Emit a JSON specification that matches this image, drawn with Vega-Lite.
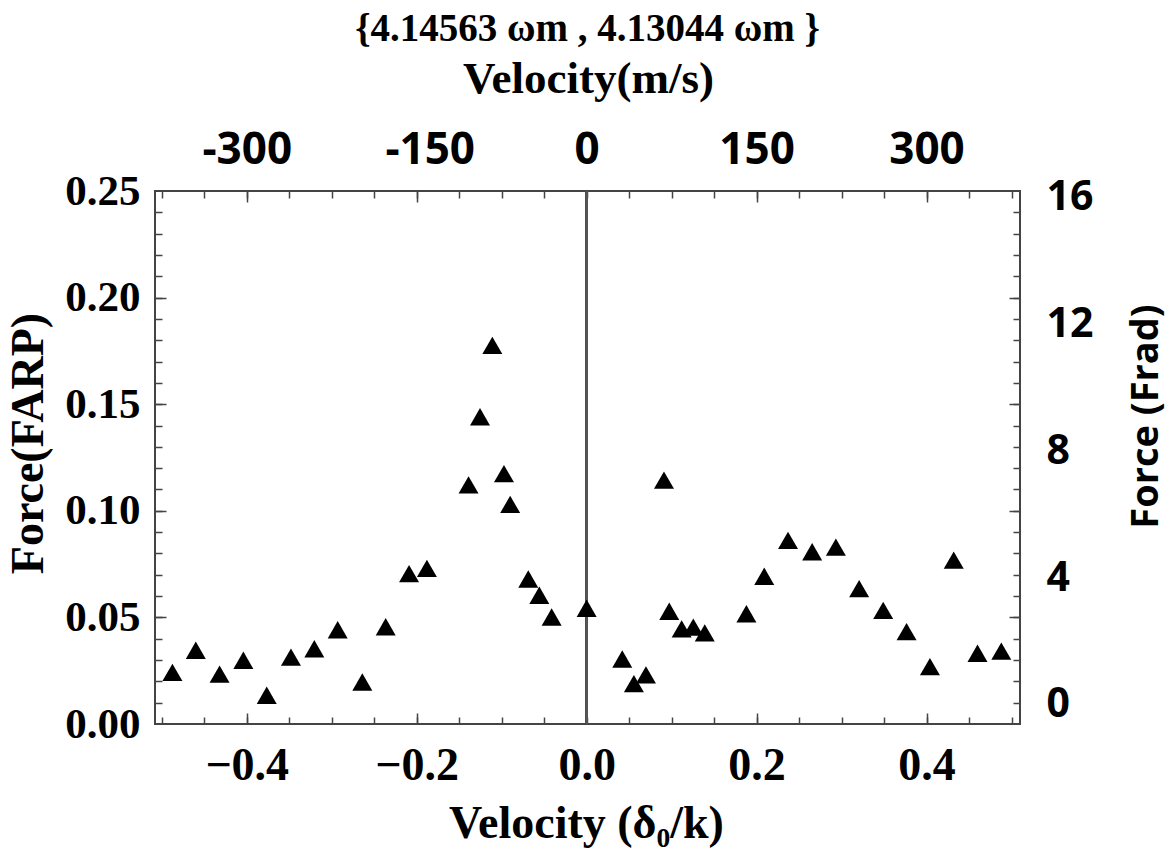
{
  "$schema": "https://vega.github.io/schema/vega-lite/v6.json",
  "width": 865,
  "height": 533,
  "autosize": {"type": "none"},
  "padding": {"left": 155, "top": 191, "right": 152, "bottom": 133},
  "background": "white",
  "config": {
    "view": {"stroke": "#444444", "strokeWidth": 2},
    "axis": {"domain": false, "grid": false, "tickColor": "#444444", "tickWidth": 1.5, "labelColor": "black", "titleColor": "black"}
  },
  "data": {
    "values": [
      {"d": -0.4875, "f": 0.0242},
      {"d": -0.46, "f": 0.0346},
      {"d": -0.432, "f": 0.0234},
      {"d": -0.404, "f": 0.0299},
      {"d": -0.3765, "f": 0.0135},
      {"d": -0.348, "f": 0.0314},
      {"d": -0.3205, "f": 0.0353},
      {"d": -0.293, "f": 0.0442},
      {"d": -0.264, "f": 0.0197},
      {"d": -0.2365, "f": 0.0456},
      {"d": -0.209, "f": 0.0705},
      {"d": -0.188, "f": 0.073},
      {"d": -0.139, "f": 0.1122},
      {"d": -0.1255, "f": 0.1441},
      {"d": -0.111, "f": 0.1776},
      {"d": -0.0973, "f": 0.1174},
      {"d": -0.09, "f": 0.103},
      {"d": -0.0687, "f": 0.068},
      {"d": -0.0557, "f": 0.0604},
      {"d": -0.0412, "f": 0.0502},
      {"d": 0.0, "f": 0.0543},
      {"d": 0.0419, "f": 0.0305},
      {"d": 0.0556, "f": 0.0189},
      {"d": 0.0698, "f": 0.023},
      {"d": 0.091, "f": 0.1144},
      {"d": 0.0972, "f": 0.0529},
      {"d": 0.1118, "f": 0.0446},
      {"d": 0.1255, "f": 0.0454},
      {"d": 0.139, "f": 0.0427},
      {"d": 0.188, "f": 0.0517},
      {"d": 0.209, "f": 0.0693},
      {"d": 0.237, "f": 0.0861},
      {"d": 0.2654, "f": 0.0808},
      {"d": 0.2933, "f": 0.083},
      {"d": 0.3207, "f": 0.0635},
      {"d": 0.349, "f": 0.0533},
      {"d": 0.3765, "f": 0.0433},
      {"d": 0.404, "f": 0.0269},
      {"d": 0.432, "f": 0.0769},
      {"d": 0.46, "f": 0.0332},
      {"d": 0.488, "f": 0.0342}
    ]
  },
  "resolve": {"scale": {"y": "independent"}, "axis": {"x": "independent", "y": "independent"}},
  "layer": [
    {
      "mark": {"type": "rule", "color": "#555555", "strokeWidth": 1.5},
      "encoding": {
        "x": {"datum": 0, "type": "quantitative", "scale": {"domain": [-0.508, 0.51], "nice": false, "zero": false}, "axis": null}
      }
    },
    {
      "mark": {"type": "point", "opacity": 0},
      "encoding": {
        "x": {"field": "d", "type": "quantitative", "scale": {"domain": [-0.508, 0.51], "nice": false, "zero": false},
          "axis": {"orient": "bottom", "values": [-0.5, -0.45, -0.4, -0.35, -0.3, -0.25, -0.2, -0.15, -0.1, -0.05, 0, 0.05, 0.1, 0.15, 0.2, 0.25, 0.3, 0.35, 0.4, 0.45, 0.5], "labels": false, "tickSize": 7, "offset": -7, "title": null}},
        "y": {"field": "f", "type": "quantitative", "scale": {"domain": [0, 0.25], "nice": false, "zero": false},
          "axis": {"orient": "left", "values": [0.01, 0.02, 0.03, 0.04, 0.05, 0.06, 0.07, 0.08, 0.09, 0.1, 0.11, 0.12, 0.13, 0.14, 0.15, 0.16, 0.17, 0.18, 0.19, 0.2, 0.21, 0.22, 0.23, 0.24], "labels": false, "tickSize": 7, "offset": -7, "title": null}}
      }
    },
    {
      "mark": {"type": "point", "opacity": 0},
      "encoding": {
        "x": {"field": "d", "type": "quantitative", "scale": {"domain": [-0.508, 0.51], "nice": false, "zero": false},
          "axis": {"orient": "bottom", "values": [-0.4, -0.2, 0.2, 0.4], "labels": false, "tickSize": 11, "offset": -11, "title": null}},
        "y": {"field": "f", "type": "quantitative", "scale": {"domain": [0, 0.25], "nice": false, "zero": false},
          "axis": {"orient": "left", "values": [0.05, 0.1, 0.15, 0.2], "labels": false, "tickSize": 11, "offset": -11, "title": null}}
      }
    },
    {
      "mark": {"type": "point", "opacity": 0},
      "encoding": {
        "x": {"field": "d", "type": "quantitative", "scale": {"domain": [-0.508, 0.51], "nice": false, "zero": false},
          "axis": {"orient": "top", "values": [-0.5, -0.45, -0.4, -0.35, -0.3, -0.25, -0.2, -0.15, -0.1, -0.05, 0, 0.05, 0.1, 0.15, 0.2, 0.25, 0.3, 0.35, 0.4, 0.45, 0.5], "labels": false, "tickSize": 7, "offset": -7, "title": null}},
        "y": {"field": "f", "type": "quantitative", "scale": {"domain": [0, 0.25], "nice": false, "zero": false},
          "axis": {"orient": "right", "values": [0.01, 0.02, 0.03, 0.04, 0.05, 0.06, 0.07, 0.08, 0.09, 0.1, 0.11, 0.12, 0.13, 0.14, 0.15, 0.16, 0.17, 0.18, 0.19, 0.2, 0.21, 0.22, 0.23, 0.24], "labels": false, "tickSize": 7, "offset": -7, "title": null}}
      }
    },
    {
      "mark": {"type": "point", "opacity": 0},
      "encoding": {
        "x": {"field": "d", "type": "quantitative", "scale": {"domain": [-0.508, 0.51], "nice": false, "zero": false},
          "axis": {"orient": "top", "values": [-0.4, -0.2, 0.2, 0.4], "labels": false, "tickSize": 11, "offset": -11, "title": null}},
        "y": {"field": "f", "type": "quantitative", "scale": {"domain": [0, 0.25], "nice": false, "zero": false},
          "axis": {"orient": "right", "values": [0.05, 0.1, 0.15, 0.2], "labels": false, "tickSize": 11, "offset": -11, "title": null}}
      }
    },
    {
      "mark": {"type": "point", "opacity": 0},
      "encoding": {
        "x": {"field": "d", "type": "quantitative", "scale": {"domain": [-0.508, 0.51], "nice": false, "zero": false},
          "axis": {"orient": "top", "values": [-0.4, -0.2, 0, 0.2, 0.4], "ticks": false, "labelExpr": "'' + round(datum.value * 750)",
            "labelFont": "Open Sans", "labelFontWeight": "bold", "labelFontSize": 44, "labelBaseline": "alphabetic", "labelPadding": 28, "labelFlush": false, "labelOverlap": false,
            "labelOffset": {"condition": {"test": "datum.value < -0.1 && datum.value > -0.3", "value": 13}, "value": 0},
            "title": "Velocity(m/s)", "titleFont": "Liberation Serif", "titleFontWeight": "bold", "titleFontSize": 45, "titleX": 433, "titleY": -99, "titleAlign": "center", "titleBaseline": "alphabetic", "titleAngle": 0}},
        "y": {"field": "f", "type": "quantitative", "scale": {"domain": [-0.6, 16.21], "nice": false, "zero": false},
          "axis": {"orient": "right", "values": [0, 4, 8, 12, 16], "ticks": false, "format": "d",
            "labelFont": "Open Sans", "labelFontWeight": "bold", "labelFontSize": 41, "labelPadding": 26, "labelFlush": false, "labelOverlap": false,
            "title": "Force (Frad)", "titleFont": "Open Sans", "titleFontWeight": "bold", "titleFontSize": 38, "titleAngle": -90, "titleX": 137, "titleY": 225, "titleAlign": "center", "titleBaseline": "alphabetic"}}
      }
    },
    {
      "mark": {"type": "point", "opacity": 0},
      "encoding": {
        "x": {"field": "d", "type": "quantitative", "scale": {"domain": [-0.508, 0.51], "nice": false, "zero": false},
          "axis": {"orient": "top", "labels": false, "ticks": false,
            "title": "{4.14563 ωm , 4.13044 ωm }", "titleFont": "Liberation Serif", "titleFontWeight": "bold", "titleFontSize": 39, "titleX": 432, "titleY": -151, "titleAlign": "center", "titleBaseline": "alphabetic", "titleAngle": 0}},
        "y": {"field": "f", "type": "quantitative", "scale": {"domain": [0, 0.25], "nice": false, "zero": false}, "axis": null}
      }
    },
    {
      "mark": {"type": "point", "shape": "triangle-up", "filled": true, "color": "black", "opacity": 1, "size": 400},
      "encoding": {
        "x": {"field": "d", "type": "quantitative", "scale": {"domain": [-0.508, 0.51], "nice": false, "zero": false},
          "axis": {"orient": "bottom", "values": [-0.4, -0.2, 0, 0.2, 0.4], "format": ".1f", "ticks": false,
            "labelFont": "Liberation Serif", "labelFontWeight": "bold", "labelFontSize": 46, "labelBaseline": "alphabetic", "labelPadding": 55, "labelFlush": false, "labelOverlap": false,
            "title": "Velocity (δ₀/k)", "titleFont": "Liberation Serif", "titleFontWeight": "bold", "titleFontSize": 46, "titleX": 431, "titleY": 113, "titleAlign": "center", "titleBaseline": "alphabetic"}},
        "y": {"field": "f", "type": "quantitative", "scale": {"domain": [0, 0.25], "nice": false, "zero": false},
          "axis": {"orient": "left", "values": [0, 0.05, 0.1, 0.15, 0.2, 0.25], "format": ".2f", "ticks": false,
            "labelFont": "Liberation Serif", "labelFontWeight": "bold", "labelFontSize": 43, "labelPadding": 15, "labelFlush": false, "labelOverlap": false,
            "title": "Force(FARP)", "titleFont": "Liberation Serif", "titleFontWeight": "bold", "titleFontSize": 46, "titleAngle": -90, "titleX": -113, "titleY": 252, "titleAlign": "center", "titleBaseline": "alphabetic"}}
      }
    }
  ]
}
